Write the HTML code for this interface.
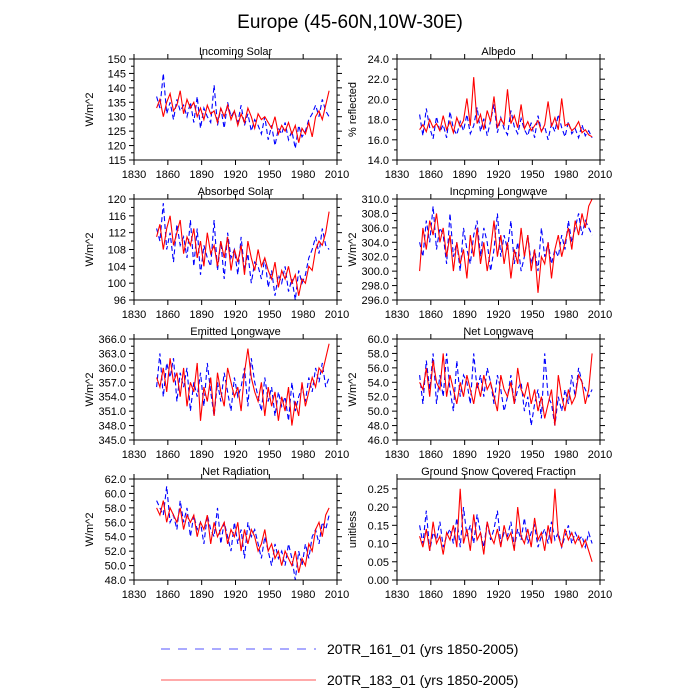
<!DOCTYPE html>
<html><head><meta charset="utf-8">
<style>
body{margin:0;background:#fff;}
svg{display:block;font-family:"Liberation Sans",sans-serif;}
</style></head>
<body>
<svg id="chart" width="700" height="700" viewBox="0 0 700 700" xmlns="http://www.w3.org/2000/svg">
<text x="350" y="28" text-anchor="middle" font-size="19">Europe (45-60N,10W-30E)</text>
<g id="panels"></g>
<g>
<line x1="161" y1="649" x2="316" y2="649" stroke="#5555ff" stroke-width="1" stroke-dasharray="9,8"/>
<text x="327" y="654" font-size="14">20TR_161_01 (yrs 1850-2005)</text>
<line x1="161" y1="680" x2="316" y2="680" stroke="#ff5555" stroke-width="1"/>
<text x="327" y="685" font-size="14">20TR_183_01 (yrs 1850-2005)</text>
</g>
</svg>
<script>
const startYear = 1850;
const yearStep = 3;
const xTicks = [1830,1860,1890,1920,1950,1980,2010];

const solarInRed = [133,136,130,135,138,132,134,139,131,136,133,135,130,133,129,134,131,132,128,133,130,134,129,132,127,131,128,133,130,126,131,129,130,128,126,130,124,127,125,128,124,127,121,126,124,128,123,130,132,129,134,139];
const solarInBlue = [137,133,145,131,135,129,136,132,134,130,135,128,137,126,133,130,128,141,127,133,126,135,130,132,128,134,127,131,125,129,127,124,130,122,127,120,126,124,128,122,125,119,127,123,125,129,131,134,130,136,132,130];
const absRed = [111,114,108,113,116,109,112,115,107,111,109,113,106,110,104,112,107,109,104,110,106,111,103,108,105,109,102,110,106,103,108,104,106,103,101,105,99,103,101,104,100,102,97,101,100,104,103,108,110,109,112,117];
const absBlue = [113,110,119,108,112,105,114,109,111,106,115,104,113,102,109,106,104,115,103,110,101,112,106,108,102,111,103,107,100,105,104,101,106,99,103,97,102,100,104,98,101,96,103,100,102,106,108,111,107,113,109,108];
const emitRed = [358,356,360,355,362,357,359,354,360,352,357,355,361,349,356,353,358,350,359,355,352,360,357,354,356,351,359,364,358,355,353,357,350,356,352,355,349,354,351,356,348,353,350,357,352,355,358,356,360,359,362,365];
const emitBlue = [356,363,354,361,358,362,353,359,356,360,351,357,354,359,352,361,355,350,357,353,359,355,351,358,354,356,360,352,362,357,354,351,358,353,356,350,355,352,354,349,357,351,354,356,353,358,355,360,357,361,356,358];
const netRadRed = [58,57,59,56,58,57,56,58,55,57,56,57,54,56,55,57,53,56,54,55,56,53,55,54,56,52,55,53,55,54,52,53,55,52,53,51,52,50,52,51,50,52,49,51,50,53,52,55,56,54,57,58];
const netRadBlue = [59,58,57,61,56,57,55,59,56,58,54,57,55,56,53,57,55,54,58,53,56,54,52,56,53,55,51,56,54,55,53,51,54,52,50,53,51,52,50,53,51,48,52,50,53,51,54,55,53,56,55,57];
const albRed = [17,17.5,16.8,18,17.2,17.6,16.9,18.4,17,17.8,16.7,18.2,17.3,17.9,20.1,17.4,22.2,17.6,18.5,17,18.9,17.8,20.3,17.2,18.1,17.5,21,17.6,18.4,17.2,19.5,17.1,17.8,16.9,17.4,17.9,16.8,17.5,19.8,17.3,18.2,17,20.1,17.4,17.6,16.9,17.2,17.8,16.7,17,16.5,16.3];
const albBlue = [18.5,16.4,19.1,17.2,16.1,18.3,16.8,17.5,16.2,18.8,17.1,16.5,17.8,16.9,18.5,16.6,17.4,19.2,16.8,18.1,16.4,17.9,19.5,16.7,18.2,17.1,16.5,18.9,17.3,16.6,18.1,17,16.4,17.7,16.2,18.4,16.9,17.3,16,17.6,16.8,18.5,17.2,16.3,17.8,16.6,17.1,16.2,17.5,16.4,16.9,16.2];
const lwInRed = [300,306,303,307,305,308,304,306,302,305,300,304,301,303,299,305,302,306,301,304,300,303,307,302,305,301,304,299,303,301,306,302,305,300,303,297,302,301,304,299,303,305,302,304,306,303,307,305,308,306,309,310];
const lwInBlue = [304,302,307,304,309,303,306,305,301,308,302,304,300,306,303,301,305,307,302,306,304,300,303,308,302,305,303,307,301,304,300,302,305,301,303,300,306,302,304,301,303,302,305,303,307,304,306,308,305,307,306,305];
const netLwRed = [54,53,56,52,57,54,53,58,52,55,53,51,54,52,55,53,51,54,52,55,53,54,52,50,55,53,52,54,51,56,53,52,54,51,53,50,52,49,51,53,48,55,52,50,53,51,52,55,54,51,53,58];
const netLwBlue = [55,51,57,53,58,51,55,52,58,53,50,57,52,55,54,51,58,53,55,52,56,54,51,55,53,50,52,55,51,53,54,50,52,48,51,53,49,58,52,51,48,52,50,53,51,55,52,56,54,53,52,53];
const snowRed = [.12,.09,.14,.08,.16,.1,.12,.07,.13,.11,.15,.09,.25,.1,.14,.08,.18,.11,.13,.07,.16,.12,.1,.14,.09,.15,.11,.13,.08,.2,.12,.1,.14,.09,.17,.11,.13,.08,.15,.1,.25,.12,.09,.14,.11,.13,.1,.12,.09,.11,.08,.05];
const snowBlue = [.15,.1,.19,.08,.13,.11,.16,.09,.12,.14,.1,.17,.09,.2,.12,.15,.1,.18,.13,.09,.16,.11,.14,.19,.1,.13,.12,.16,.09,.14,.11,.17,.1,.13,.15,.09,.12,.14,.1,.16,.11,.13,.09,.12,.15,.1,.13,.11,.12,.09,.13,.1];

const ticks1 = [115,120,125,130,135,140,145,150];
const ticks2 = [96,100,104,108,112,116,120];
const ticks3 = [345,348,351,354,357,360,363,366];
const ticks4 = [48,50,52,54,56,58,60,62];
const ticks5 = [14,16,18,20,22,24];
const ticks6 = [296,298,300,302,304,306,308,310];
const ticks7 = [46,48,50,52,54,56,58,60];
const ticks8 = [0,0.05,0.10,0.15,0.20,0.25];

const panels = [
 {name:'incoming-solar',title:'Incoming Solar',unit:'W/m^2',x:134,y:59,min:115,max:150,ticks:ticks1,dec:0,red:solarInRed,blue:solarInBlue},
 {name:'albedo',title:'Albedo',unit:'% reflected',x:397,y:59,min:14,max:24,ticks:ticks5,dec:1,red:albRed,blue:albBlue},
 {name:'absorbed-solar',title:'Absorbed Solar',unit:'W/m^2',x:134,y:199,min:96,max:120,ticks:ticks2,dec:0,red:absRed,blue:absBlue},
 {name:'incoming-longwave',title:'Incoming Longwave',unit:'W/m^2',x:397,y:199,min:296,max:310,ticks:ticks6,dec:1,red:lwInRed,blue:lwInBlue},
 {name:'emitted-longwave',title:'Emitted Longwave',unit:'W/m^2',x:134,y:339,min:345,max:366,ticks:ticks3,dec:1,red:emitRed,blue:emitBlue},
 {name:'net-longwave',title:'Net Longwave',unit:'W/m^2',x:397,y:339,min:46,max:60,ticks:ticks7,dec:1,red:netLwRed,blue:netLwBlue},
 {name:'net-radiation',title:'Net Radiation',unit:'W/m^2',x:134,y:479,min:48,max:62,ticks:ticks4,dec:1,red:netRadRed,blue:netRadBlue},
 {name:'snow-fraction',title:'Ground Snow Covered Fraction',unit:'unitless',x:397,y:479,min:0,max:0.277,ticks:ticks8,dec:2,red:snowRed,blue:snowBlue}
];
const W=203,H=101;
const NS='http://www.w3.org/2000/svg';
const root=document.getElementById('panels');
function mk(tag,attrs,parent){const e=document.createElementNS(NS,tag);for(const k in attrs)e.setAttribute(k,attrs[k]);parent.appendChild(e);return e;}
panels.forEach(p=>{
  const g=mk('g',{},root);
  
  
  const xs=yr=>p.x+(yr-1830)/180*W;
  const ys=v=>p.y+H-(v-p.min)/(p.max-p.min)*H;
  const t=mk('text',{x:p.x+W/2,y:p.y-4,'text-anchor':'middle','font-size':'11'},g);
  t.textContent=p.title;
  
  
  const yt=mk('text',{x:0,y:0,'text-anchor':'middle','font-size':'11',transform:`translate(${p.x-41},${p.y+H/2}) rotate(-90)`},g);
  yt.textContent=p.unit;
  
  
  // series
  [['blue',p.blue,'#0000ff','5,3'],['red',p.red,'#ff0000','']].forEach(s=>{
    const pts=s[1].map((v,i)=>xs(startYear+i*yearStep).toFixed(1)+','+ys(v).toFixed(1)).join(' ');
    const pl=mk('polyline',{points:pts,fill:'none',stroke:s[2],'stroke-width':'1.1'},g);
    if(s[3])pl.setAttribute('stroke-dasharray',s[3]);
    
    
  });
  const fr=mk('rect',{x:p.x,y:p.y,width:W,height:H,fill:'none',stroke:'#000','stroke-width':'1'},g);
  
  
  xTicks.forEach(yr=>{
    const x=xs(yr);
    mk('line',{x1:x,y1:p.y+H,x2:x,y2:p.y+H+5,stroke:'#000'},g);
    mk('line',{x1:x,y1:p.y,x2:x,y2:p.y-5,stroke:'#000'},g);
    const l=mk('text',{x:x,y:p.y+H+18,'text-anchor':'middle','font-size':'11'},g);
    l.textContent=yr;
    
    
  });
  p.ticks.forEach((v,i)=>{
    const y=ys(v);
    mk('line',{x1:p.x,y1:y,x2:p.x-5,y2:y,stroke:'#000'},g);
    mk('line',{x1:p.x+W,y1:y,x2:p.x+W+5,y2:y,stroke:'#000'},g);
    if(i<p.ticks.length-1){
      const m=ys((v+p.ticks[i+1])/2);
      mk('line',{x1:p.x,y1:m,x2:p.x-3,y2:m,stroke:'#000'},g);
      mk('line',{x1:p.x+W,y1:m,x2:p.x+W+3,y2:m,stroke:'#000'},g);
    }
    const l=mk('text',{x:p.x-8,y:y+4,'text-anchor':'end','font-size':'11'},g);
    l.textContent=v.toFixed(p.dec);
    
    
  });
});
</script>
</body></html>
